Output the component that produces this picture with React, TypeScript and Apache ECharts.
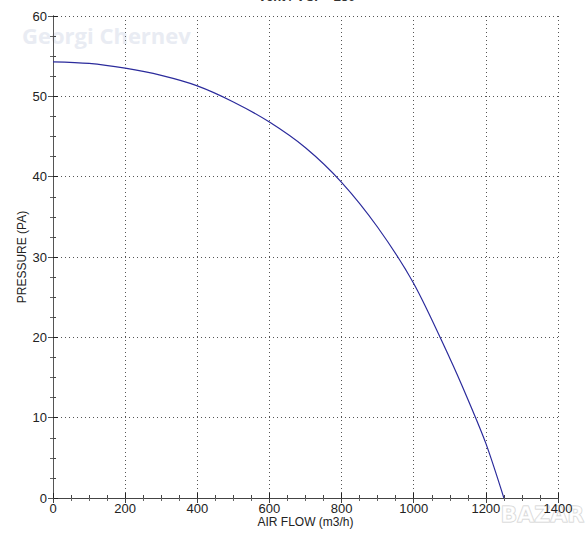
import React, { useEffect, useRef } from "react";
import * as echarts from "echarts";

const airFlow = [0, 100, 200, 300, 400, 500, 600, 700, 800, 900, 1000, 1100, 1150, 1200, 1250];
const pressure = [54.3, 54.1, 53.5, 52.6, 51.3, 49.3, 46.8, 43.6, 39.3, 33.7, 26.7, 17.4, 12.3, 6.8, 0];
const xTicks = { min: 0, max: 1400, interval: 200 };
const yTicks = { min: 0, max: 60, interval: 10 };

export default function App() {
  const ref = useRef<HTMLDivElement>(null);
  useEffect(() => {
    const chart = echarts.init(ref.current!, null, { renderer: "svg" });
    const font = "'Liberation Sans', Arial, sans-serif";
    const splitLine = { show: true, lineStyle: { color: "#555", type: [1, 3] as any, width: 1 } };
    const axisLine = { show: true, lineStyle: { color: "#222", width: 1 } };
    chart.setOption({
      animation: false,
      backgroundColor: "#fff",
      grid: { left: 53, right: 28, top: 16, bottom: 43, containLabel: false },
      graphic: [
        {
          type: "text",
          left: 258,
          top: -10,
          style: { text: "Vent / VCF - 250", font: "bold 13px " + font, fill: "#333" },
        },
        {
          type: "text",
          left: 22,
          top: 24,
          z: -1,
          style: { text: "Georgi Chernev", font: "bold 22px 'Open Sans', sans-serif", fill: "#e9ecf3" },
        },
        {
          type: "text",
          left: 500,
          top: 503,
          style: { text: "BAZAR", font: "bold 22px 'DejaVu Sans', sans-serif", fill: "rgba(255,255,255,0.6)", stroke: "#cfcfcf", lineWidth: 1 },
        },
      ],
      xAxis: [
        {
          type: "value",
          min: xTicks.min,
          max: xTicks.max,
          interval: xTicks.interval,
          name: "AIR FLOW (m3/h)",
          nameLocation: "middle",
          nameGap: 18,
          nameMoveOverlap: false,
          nameTextStyle: { fontFamily: font, fontSize: 12, color: "#222", verticalAlign: "top" },
          axisLine,
          axisTick: { show: true, inside: true, length: 5, lineStyle: { color: "#222" } },
          minorTick: { show: true, splitNumber: 4, length: 3, lineStyle: { color: "#444" } },
          axisLabel: { fontFamily: font, fontSize: 13, color: "#222", margin: 4, formatter: (v: number) => String(v) },
          splitLine,
        },
        {
          type: "value",
          position: "top",
          min: xTicks.min,
          max: xTicks.max,
          interval: xTicks.interval,
          axisLine: { show: true, lineStyle: { color: "#444" } },
          axisTick: { show: true, inside: true, length: 5, lineStyle: { color: "#444" } },
          minorTick: { show: true, splitNumber: 4, length: 3, lineStyle: { color: "#666" } },
          axisLabel: { show: false },
          splitLine: { show: false },
        },
      ],
      yAxis: [
        {
          type: "value",
          min: yTicks.min,
          max: yTicks.max,
          interval: yTicks.interval,
          name: "PRESSURE (PA)",
          nameLocation: "middle",
          nameGap: 25,
          nameMoveOverlap: false,
          nameTextStyle: { fontFamily: font, fontSize: 12, color: "#222" },
          axisLine,
          axisTick: { show: true, inside: true, length: 5, lineStyle: { color: "#222" } },
          minorTick: { show: true, splitNumber: 4, length: 3, lineStyle: { color: "#444" } },
          axisLabel: { fontFamily: font, fontSize: 13, color: "#222", margin: 6, formatter: (v: number) => String(v) },
          splitLine,
        },
        {
          type: "value",
          position: "right",
          min: yTicks.min,
          max: yTicks.max,
          interval: yTicks.interval,
          axisLine: { show: true, lineStyle: { color: "#555" } },
          axisTick: { show: true, inside: true, length: 5, lineStyle: { color: "#555" } },
          minorTick: { show: true, splitNumber: 4, length: 3, lineStyle: { color: "#666" } },
          axisLabel: { show: false },
          splitLine: { show: false },
        },
      ],
      series: [
        {
          type: "line",
          data: airFlow.map((x, i) => [x, pressure[i]]),
          smooth: 0.3,
          showSymbol: false,
          lineStyle: { color: "#2b2b9c", width: 1.2 },
          z: 5,
        },
      ],
    });
    return () => chart.dispose();
  }, []);
  return <div ref={ref} style={{ width: 586, height: 541, position: "absolute", left: 0, top: 0 }} />;
}
